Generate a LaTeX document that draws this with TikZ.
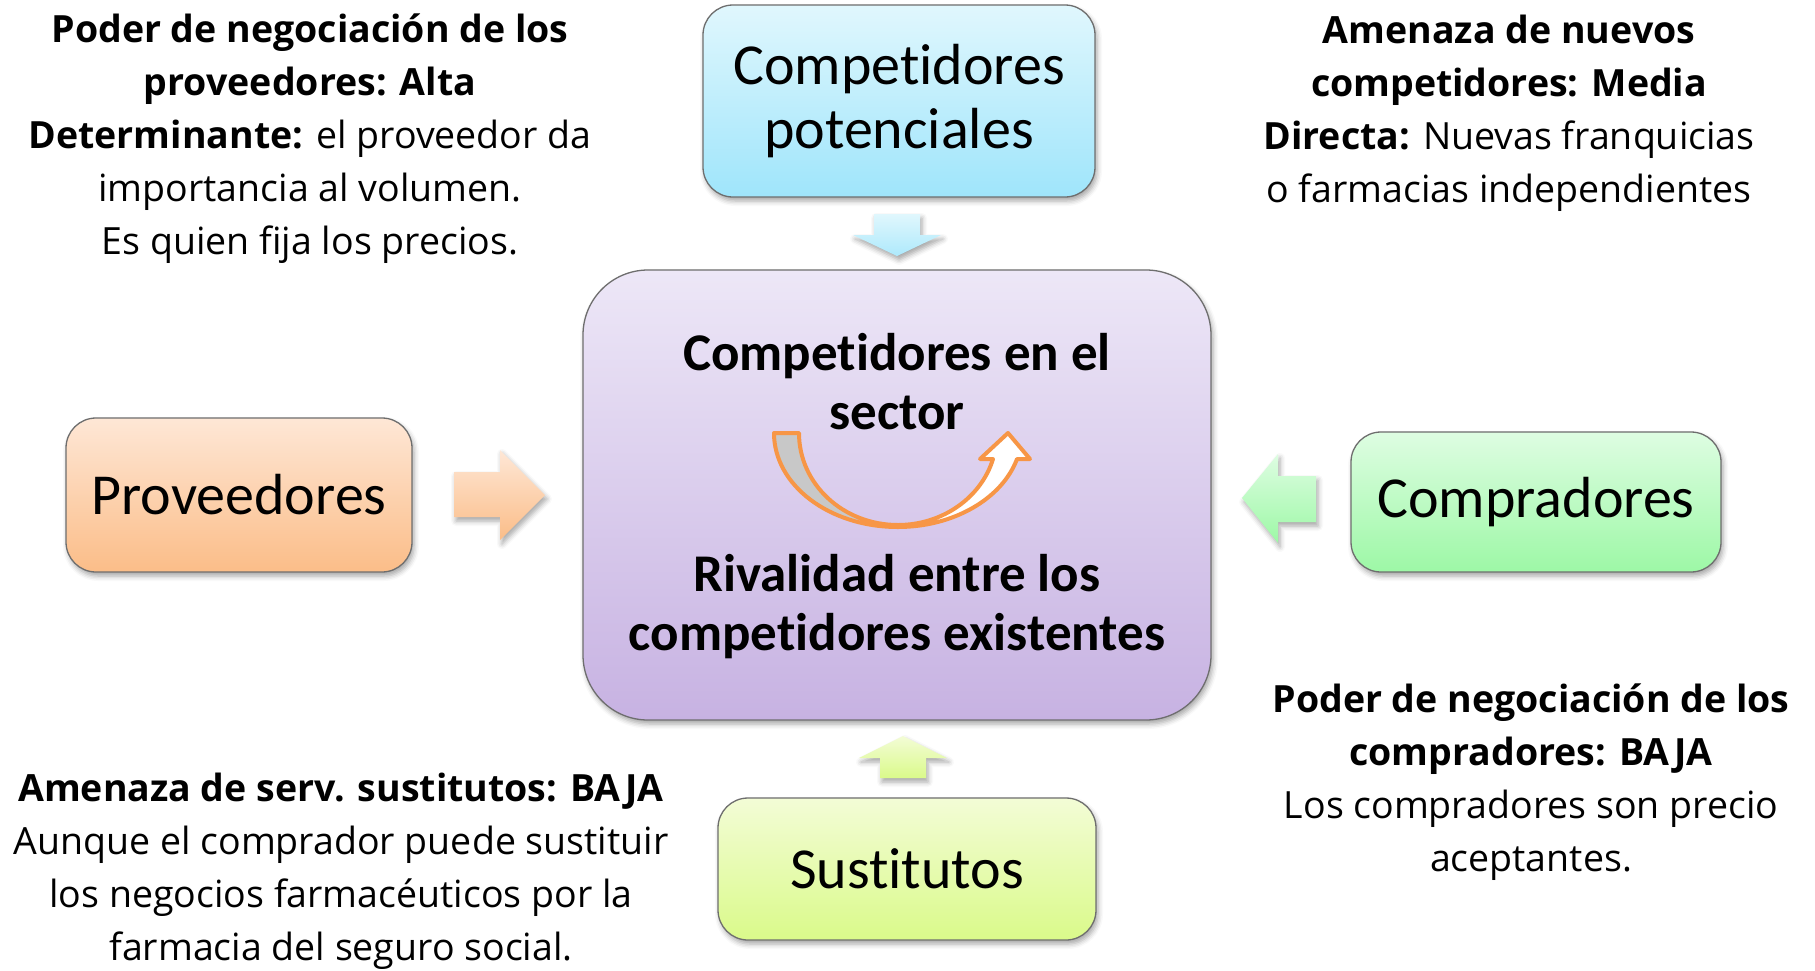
\documentclass[tikz,border=0pt]{standalone}
\usepackage{fontspec}
\setmainfont{Carlito}[Ligatures=NoCommon]
\newfontfamily\notafont{Open Sans}[Ligatures=NoCommon]
\usetikzlibrary{shadows.blur}
\pgfdeclarelayer{background}
\pgfdeclarelayer{foreground}
\pgfsetlayers{background,main,foreground}

\definecolor{azulA}{HTML}{E0F7FD}
\definecolor{azulB}{HTML}{9FE5FB}
\definecolor{lilaA}{HTML}{EDE7F7}
\definecolor{lilaB}{HTML}{C7B2E2}
\definecolor{naranjaA}{HTML}{FEE7D6}
\definecolor{naranjaB}{HTML}{FBBD88}
\definecolor{verdeA}{HTML}{DEFDE2}
\definecolor{verdeB}{HTML}{9DF8A6}
\definecolor{limaA}{HTML}{F3FCD6}
\definecolor{limaB}{HTML}{DAFA8A}
\definecolor{borde}{HTML}{6E6E6E}
\definecolor{naranja}{HTML}{F79646}
\definecolor{gris}{HTML}{C8C8C8}

\newcommand{\curvaU}{(774,433) .. controls (774,485) and (829,527) .. (898,527)
  .. controls (953,527) and (1002,499) .. (1017,459) -- (1030,459) -- (1008,433)
  -- (980,459) -- (993,459) .. controls (981,498) and (942,525) .. (898,525)
  .. controls (843,525) and (799,484) .. (799,433) -- cycle}

\tikzset{
  sombra/.style={blur shadow={shadow xshift=2pt, shadow yshift=-4pt, shadow blur radius=5pt, shadow opacity=35}},
  caja/.style={draw=borde, line width=1.3pt, rounded corners=30pt, inner sep=0pt, align=center, font=\fontsize{58}{64}\selectfont, sombra},
  nota/.style={align=center, font=\notafont\fontsize{37.5}{53}\selectfont},
  titulo/.style={align=center, font=\fontsize{53}{59}\selectfont\bfseries},
}

\begin{document}
\begin{tikzpicture}[x=1pt,y=-1pt]
\useasboundingbox (0,0) rectangle (1815,970);
% cajas
\node[caja, top color=azulA, bottom color=azulB, minimum width=392pt, minimum height=192pt] (pot) at (899,101) {Competidores\\potenciales};
\node[caja, rounded corners=65pt, top color=lilaA, bottom color=lilaB, minimum width=628pt, minimum height=450pt] (sec) at (897,495) {};
\node[caja, top color=naranjaA, bottom color=naranjaB, minimum width=346pt, minimum height=154pt] (prov) at (239,495) {Proveedores};
\node[caja, top color=verdeA, bottom color=verdeB, minimum width=370pt, minimum height=140pt] (comp) at (1536,502) {Compradores};
\node[caja, top color=limaA, bottom color=limaB, minimum width=378pt, minimum height=142pt] (sust) at (907,869) {Sustitutos};
% flechas
\draw[sombra, draw=none, top color=azulA, bottom color=azulB!85!white] (874,214) -- (920,214) -- (920,235) -- (941,235) -- (897,256) -- (853,235) -- (874,235) -- cycle;
\draw[sombra, draw=none, top color=naranjaA, bottom color=naranjaB] (454,472) -- (500,472) -- (500,450) -- (545,495) -- (500,540) -- (500,517) -- (454,517) -- cycle;
\draw[sombra, draw=none, top color=verdeA, bottom color=verdeB] (1316,476) -- (1278,476) -- (1278,454) -- (1242,498) -- (1278,543) -- (1278,522) -- (1316,522) -- cycle;
\draw[sombra, draw=none, top color=limaA, bottom color=limaB] (880,778) -- (880,758) -- (859,758) -- (903,736) -- (947,758) -- (926,758) -- (926,778) -- cycle;
% textos
\node[titulo] (t1) at (897,382) {Competidores en el\\sector};
\node[titulo] (t2) at (897,607) {Rivalidad entre los\\competidores existentes};
\node[nota] (tprov) at (310,139) {\textbf{Poder de negociación de los}\\\textbf{proveedores: Alta}\\\textbf{Determinante:} el proveedor da\\importancia al volumen.\\Es quien fija los precios.};
\node[nota] (tpot) at (1509,113) {\textbf{Amenaza de nuevos}\\\textbf{competidores: Media}\\\textbf{Directa:} Nuevas franquicias\\o farmacias independientes};
\node[nota] (tcomp) at (1531,782) {\textbf{Poder de negociación de los}\\\textbf{compradores: BAJA}\\Los compradores son precio\\aceptantes.};
\node[nota] (tsust) at (341,871) {\textbf{Amenaza de serv. sustitutos: BAJA}\\Aunque el comprador puede sustituir\\los negocios farmacéuticos por la\\farmacia del seguro social.};
\begin{pgfonlayer}{foreground}
\fill[white] \curvaU;
\begin{scope}
\clip (760,420) rectangle (890,540);
\fill[gris] \curvaU;
\end{scope}
\draw[naranja, line width=4pt, line join=round] \curvaU;
\end{pgfonlayer}
\end{tikzpicture}
\end{document}
